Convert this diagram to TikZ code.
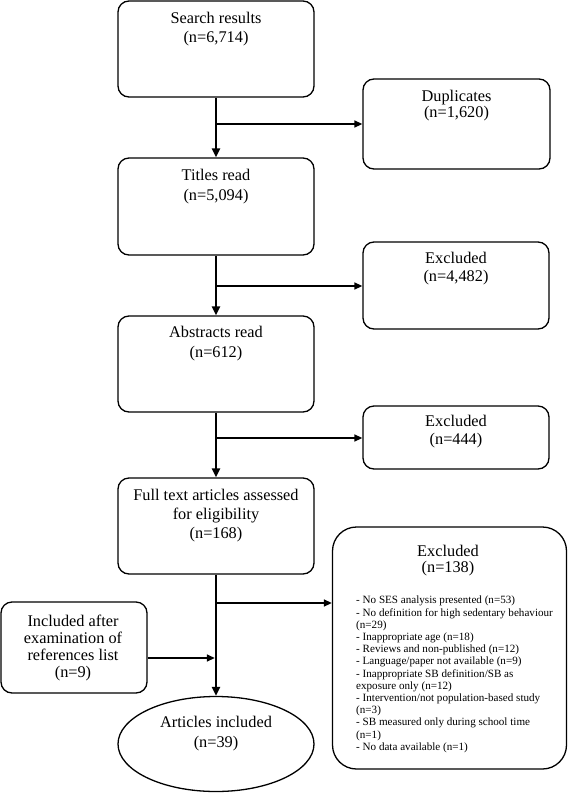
\documentclass[tikz,border=0pt]{standalone}
\usepackage{fontspec}
\setmainfont{Liberation Serif}
\usetikzlibrary{arrows.meta,shapes.geometric}
\tikzset{
  flowbox/.style={draw, line width=1.3pt, rounded corners=11pt, inner sep=0pt},
  lbl/.style={font=\fontsize{16.3}{19}\selectfont, align=center, inner sep=0pt},
  smalllist/.style={font=\fontsize{11.1}{12.2}\selectfont, align=left, inner sep=0pt},
  mainline/.style={line width=2.5pt, -{Triangle[length=9pt,width=8pt]}},
  branch/.style={line width=1.5pt, -{Triangle[length=8pt,width=7pt]}},
}
\begin{document}
\begin{tikzpicture}[x=1pt,y=-1pt]
\useasboundingbox (0,0) rectangle (568,793);

% main column boxes
\node[flowbox, minimum width=196pt, minimum height=96pt] (search) at (216,49) {};
\node[lbl] (searcht) at (216,29) {Search results\\(n=6,714)};

\node[flowbox, minimum width=196pt, minimum height=97pt] (titles) at (216,206.5) {};
\node[lbl, font=\fontsize{16.3}{20}\selectfont] (titlest) at (216,187) {Titles read\\(n=5,094)};

\node[flowbox, minimum width=196pt, minimum height=96pt] (abstr) at (216,364) {};
\node[lbl, font=\fontsize{16.3}{20}\selectfont] (abstrt) at (216,344) {Abstracts read\\(n=612)};

\node[flowbox, minimum width=196pt, minimum height=96pt] (full) at (216,526) {};
\node[lbl] (fullt) at (216,516) {Full text articles assessed\\for eligibility\\(n=168)};

\node[draw, ellipse, line width=1.3pt, minimum width=196pt, minimum height=95pt, inner sep=0pt] (incl) at (216,744) {};
\node[lbl, font=\fontsize{16.3}{20}\selectfont] (inclt) at (216,734) {Articles included\\(n=39)};

% side boxes
\node[flowbox, minimum width=187pt, minimum height=90pt] (dup) at (456.5,124) {};
\node[lbl, font=\fontsize{16.3}{15.5}\selectfont] (dupt) at (456.5,105.5) {Duplicates\\(n=1,620)};

\node[flowbox, minimum width=186pt, minimum height=87pt] (exa) at (456,285.5) {};
\node[lbl, font=\fontsize{16.3}{18}\selectfont] (exat) at (456,269) {Excluded\\(n=4,482)};

\node[flowbox, minimum width=186pt, minimum height=63pt] (exb) at (456,437.5) {};
\node[lbl, font=\fontsize{16.3}{18}\selectfont] (exbt) at (456,432) {Excluded\\(n=444)};

\node[flowbox, rounded corners=24pt, minimum width=234pt, minimum height=242pt] (exc) at (449.5,648) {};
\node[lbl, font=\fontsize{16.3}{15.5}\selectfont] (exct) at (448,560.5) {Excluded\\(n=138)};
\node[smalllist, anchor=west] (excl) at (356,674.5) {- No SES analysis presented (n=53)\\
- No definition for high sedentary behaviour\\
(n=29)\\
- Inappropriate age (n=18)\\
- Reviews and non-published (n=12)\\
- Language/paper not available (n=9)\\
- Inappropriate SB definition/SB as\\
exposure only (n=12)\\
- Intervention/not population-based study\\
(n=3)\\
- SB measured only during school time\\
(n=1)\\
- No data available (n=1)};

\node[flowbox, minimum width=146pt, minimum height=91pt] (inc) at (74,647.5) {};
\node[lbl, font=\fontsize{16.3}{17}\selectfont] (inct) at (73,647.5) {Included after\\examination of\\references list\\(n=9)};

% branch points
\coordinate (b1) at (216,124);
\coordinate (b2) at (216,286);
\coordinate (b3) at (216,438);
\coordinate (b4) at (216,603);
\coordinate (b5) at (216,658);

% main connectors
\draw[mainline] (search.south) -- (titles.north);
\draw[mainline] (titles.south) -- (abstr.north);
\draw[mainline] (abstr.south) -- (full.north);
\draw[mainline] (full.south) -- (incl.north);

% side connectors
\draw[branch] (b1) -- (b1 -| dup.west);
\draw[branch] (b2) -- (b2 -| exa.west);
\draw[branch] (b3) -- (b3 -| exb.west);
\draw[branch] (b4) -- (b4 -| exc.west);
\draw[branch, shorten >=1.2pt] (b5 -| inc.east) -- (b5);
\end{tikzpicture}
\end{document}
